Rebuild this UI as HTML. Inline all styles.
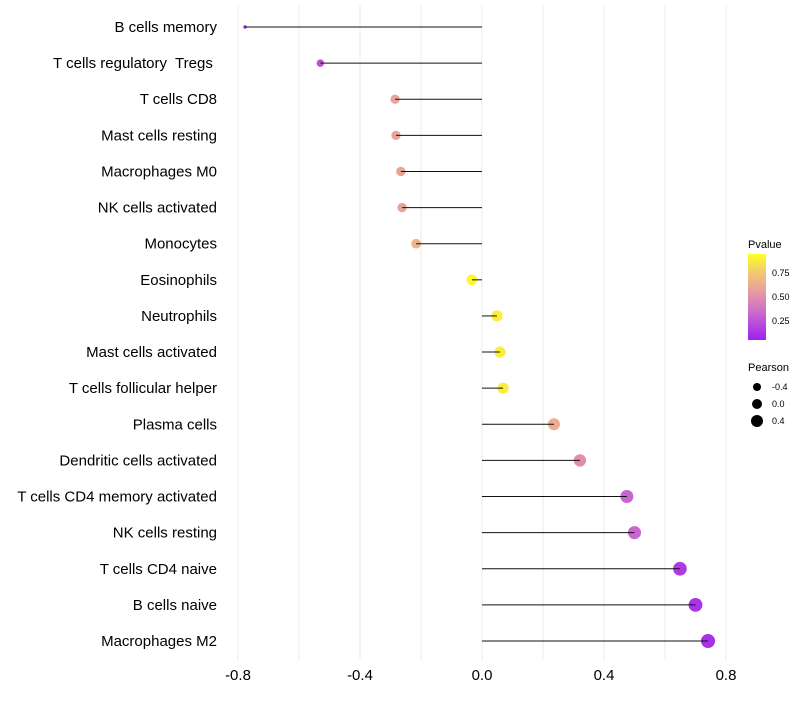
<!DOCTYPE html>
<html><head><meta charset="utf-8"><style>
body{margin:0;background:#fff;font-family:"Liberation Sans",Arial,sans-serif}
svg text{font-family:"Liberation Sans",Arial,sans-serif;white-space:pre}
</style></head><body>
<svg id="chart" width="800" height="700" xmlns="http://www.w3.org/2000/svg">
<defs><linearGradient id="pg" x1="0" y1="1" x2="0" y2="0">
<stop offset="0" stop-color="#A020F0"/><stop offset="0.35" stop-color="#D070C8"/><stop offset="0.6" stop-color="#E9A498"/><stop offset="0.8" stop-color="#F3CC6E"/><stop offset="1" stop-color="#FFFF22"/></linearGradient></defs>
<g id="grid"></g>
<g id="marks"></g>
<g id="axes"></g>
<g>
<text x="748" y="248" font-size="11">Pvalue</text>
<rect x="748" y="254" width="18" height="86" fill="url(#pg)"/>
<text x="772" y="276" font-size="9">0.75</text>
<text x="772" y="300" font-size="9">0.50</text>
<text x="772" y="324" font-size="9">0.25</text>
<text x="748" y="371" font-size="11">Pearson</text>
<circle cx="757" cy="387" r="4" fill="#000"/>
<text x="772" y="390" font-size="9">-0.4</text>
<circle cx="757" cy="404" r="5" fill="#000"/>
<text x="772" y="407" font-size="9">0.0</text>
<circle cx="757" cy="421" r="6" fill="#000"/>
<text x="772" y="424" font-size="9">0.4</text>
</g>
</svg>
<script>
const categories=["B cells memory","T cells regulatory  Tregs ","T cells CD8","Mast cells resting","Macrophages M0","NK cells activated","Monocytes","Eosinophils","Neutrophils","Mast cells activated","T cells follicular helper","Plasma cells","Dendritic cells activated","T cells CD4 memory activated","NK cells resting","T cells CD4 naive","B cells naive","Macrophages M2"];
const pearson=[-0.777,-0.53,-0.285,-0.282,-0.266,-0.262,-0.216,-0.033,0.049,0.059,0.069,0.236,0.321,0.475,0.50,0.649,0.70,0.741];
const pvalues=[0.03,0.2,0.6,0.6,0.6,0.6,0.68,0.97,0.93,0.93,0.93,0.65,0.5,0.3,0.3,0.12,0.08,0.07];
const xTicks=[-0.8,-0.4,0,0.4,0.8];
const xTickLabels=["-0.8","-0.4","0.0","0.4","0.8"];
const gridVals=[-0.8,-0.6,-0.4,-0.2,0,0.2,0.4,0.6,0.8];
const NS="http://www.w3.org/2000/svg";
const x=v=>482+v*305;
const y=i=>27+i*(641-27)/(categories.length-1);
const r=v=>1.5+5.5*Math.sqrt(Math.max(0,(v+0.78)/1.52));
const stops=[[0,[160,32,240]],[0.35,[208,112,200]],[0.6,[233,164,152]],[0.8,[243,204,110]],[1,[255,255,34]]];
function col(p){for(let k=1;k<stops.length;k++){if(p<=stops[k][0]){const a=stops[k-1],b=stops[k],t=(p-a[0])/(b[0]-a[0]);return "rgb("+a[1].map((c,j)=>Math.round(c+(b[1][j]-c)*t)).join(",")+")";}}return "rgb(255,255,34)";}
function mk(tag,at,parent){const e=document.createElementNS(NS,tag);for(const k in at)e.setAttribute(k,at[k]);document.getElementById(parent).appendChild(e);return e;}
gridVals.forEach(v=>{const g=mk("line",{x1:x(v),x2:x(v),y1:5,y2:660,stroke:"#ebebeb","stroke-width":1},"grid");

});
categories.forEach((c,i)=>{
const t=mk("text",{x:217,y:y(i)+5,"text-anchor":"end","font-size":15,fill:"#000"},"axes");t.textContent=c;


const p=mk("circle",{cx:x(pearson[i]),cy:y(i),r:r(pearson[i]),fill:col(pvalues[i])},"marks");


const l=mk("line",{x1:x(0),x2:x(pearson[i]),y1:y(i),y2:y(i),stroke:"#111","stroke-width":1},"marks");


});
xTicks.forEach((v,i)=>{const t=mk("text",{x:x(v),y:680,"text-anchor":"middle","font-size":15,fill:"#000"},"axes");t.textContent=xTickLabels[i];

});
</script>
</body></html>
